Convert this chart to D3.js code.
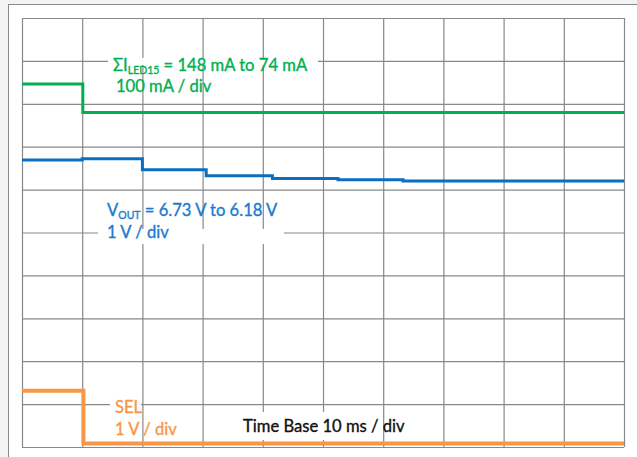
<!DOCTYPE html>
<html>

<head>
    <meta charset="utf-8">
    <script src="https://cdn.jsdelivr.net/npm/d3@7"></script>
    <title>Scope capture</title>
    <style>
        body {
            margin: 0;
            background: #f3f3f3;
        }

        .lbl {
            font-family: 'Lato', 'Noto Sans', sans-serif;
            stroke-width: 0.35px;
        }
    </style>
</head>

<body>
    <div id="scope"></div>
    <script>
        // time in ms (10 ms / div), levels in screen divisions from the bottom
        var timeTicks = [0, 10, 20, 30, 40, 50, 60, 70, 80, 90, 100];
        var divTicks = [0, 1, 2, 3, 4, 5, 6, 7, 8, 9, 10];

        var ledTime = [0, 10.1, 100];
        var ledDiv = [8.46, 7.80, 7.80];

        var voutTime = [0, 10, 20, 30.6, 41.6, 52.5, 63.3, 100];
        var voutDiv = [6.69, 6.72, 6.46, 6.32, 6.26, 6.23, 6.20, 6.20];

        var selTime = [0, 10.2, 100];
        var selDiv = [1.31, 0.08, 0.08];

        var W = 637, H = 457;
        var margin = { top: 18, right: 13, bottom: 10, left: 22 };

        var x = d3.scaleLinear().domain([0, 100]).range([margin.left, W - margin.right]);
        var y = d3.scaleLinear().domain([0, 10]).range([H - margin.bottom, margin.top]);

        var svg = d3.select("#scope").append("svg")
            .attr("width", W)
            .attr("height", H)
            .style("display", "block");

        // outer frame
        svg.append("rect")
            .attr("x", 8.5).attr("y", 4.5)
            .attr("width", W).attr("height", H)
            .attr("fill", "white")
            .attr("stroke", "#8a8a8a");

        // grid
        var gridX = d3.axisBottom(x).tickValues(timeTicks)
            .tickSize(-(y(0) - y(10))).tickFormat("");
        var gridY = d3.axisLeft(y).tickValues(divTicks)
            .tickSize(-(x(100) - x(0))).tickFormat("");

        svg.append("g")
            .attr("transform", "translate(0," + y(0) + ")")
            .call(gridX)
            .call(function (g) { g.select(".domain").remove(); })
            .selectAll("line").attr("stroke", "#888").attr("stroke-width", 1.2);

        svg.append("g")
            .attr("transform", "translate(" + x(0) + ",0)")
            .call(gridY)
            .call(function (g) { g.select(".domain").remove(); })
            .selectAll("line").attr("stroke", "#888").attr("stroke-width", 1.2);

        // white text boxes that hide parts of the grid
        var boxes = [
            [108, 58, 210, 7],
            [98, 229, 186, 15],
            [110, 401, 31, 7],
            [240, 412, 138, 28]
        ];
        svg.selectAll(".box")
            .data(boxes)
            .enter().append("rect")
            .attr("class", "box")
            .attr("x", function (d) { return d[0]; })
            .attr("y", function (d) { return d[1]; })
            .attr("width", function (d) { return d[2]; })
            .attr("height", function (d) { return d[3]; })
            .attr("fill", "white");

        // traces
        var line = d3.line()
            .x(function (d) { return x(d[0]); })
            .y(function (d) { return y(d[1]); })
            .curve(d3.curveStepAfter);

        function trace(t, v, color, w) {
            svg.append("path")
                .datum(d3.zip(t, v))
                .attr("d", line)
                .attr("fill", "none")
                .attr("stroke", color)
                .attr("stroke-width", w);
        }

        trace(ledTime, ledDiv, "#00b050", 3);
        trace(voutTime, voutDiv, "#0a6fc2", 3);
        trace(selTime, selDiv, "#f79646", 4);

        // labels
        function label(px, py, color, parts) {
            var t = svg.append("text")
                .attr("class", "lbl")
                .attr("x", px).attr("y", py)
                .attr("fill", color)
                .attr("stroke", color)
                .style("font-size", "16.6px");
            parts.forEach(function (p) {
                var s = t.append("tspan").text(p[0]);
                if (p[1]) s.attr("dy", 3).style("font-size", "10.5px");
                if (p[2]) s.attr("dy", -3);
            });
        }

        label(113, 71, "#00b050", [["ΣI"], ["LED15", true], [" = 148 mA to 74 mA", false, true]]);
        label(116, 92, "#00b050", [["100 mA / div"]]);
        label(107, 216, "#1b7bd0", [["V"], ["OUT", true], [" = 6.73 V to 6.18 V", false, true]]);
        label(107, 238, "#1b7bd0", [["1 V / div"]]);
        label(115, 413, "#f79646", [["SEL"]]);
        label(115, 435, "#f79646", [["1 V / div"]]);
        label(243, 432, "#111", [["Time Base 10 ms / div"]]);
    </script>
</body>

</html>
